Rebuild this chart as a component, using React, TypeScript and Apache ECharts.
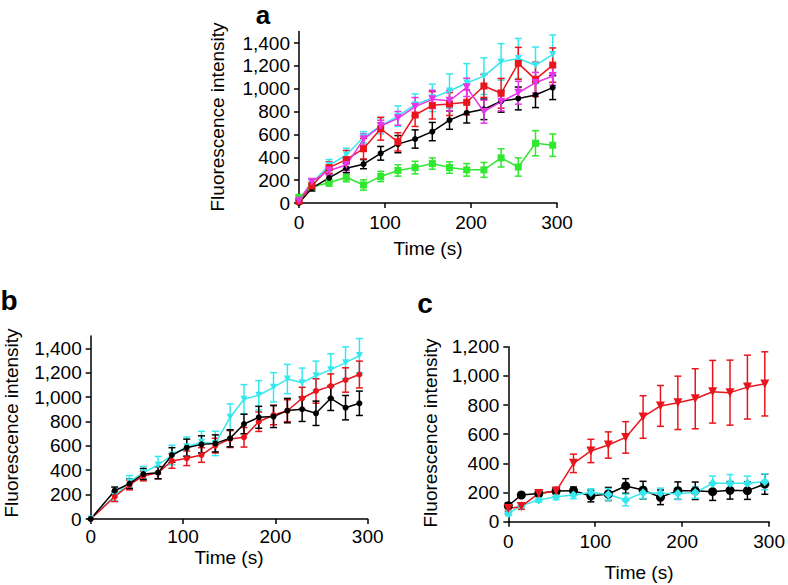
import React, { useEffect, useRef } from "react";
import * as echarts from "echarts";

// ---------- Panel a ----------
const timesA = [0, 15, 35, 55, 75, 95, 115, 135, 155, 175, 195, 215, 235, 255, 275, 295];
const aBlack = [0, 130, 220, 305, 340, 435, 515, 560, 625, 725, 790, 820, 890, 915, 945, 1010];
const aBlackErr = [0, 25, 35, 40, 40, 60, 75, 80, 80, 80, 90, 90, 95, 100, 110, 105];
const aGreen = [50, 140, 178, 225, 158, 232, 285, 310, 345, 310, 290, 290, 395, 315, 523, 506];
const aGreenErr = [20, 25, 30, 40, 45, 45, 50, 55, 50, 50, 55, 65, 80, 80, 110, 98];
const aCyan = [20, 175, 330, 420, 575, 675, 760, 860, 920, 980, 1050, 1110, 1235, 1265, 1205, 1300];
const aCyanErr = [10, 30, 50, 60, 50, 70, 90, 95, 120, 150, 170, 160, 160, 175, 160, 170];
const aRed = [15, 150, 310, 380, 475, 650, 535, 770, 855, 866, 881, 1024, 960, 1222, 1082, 1207];
const aRedErr = [10, 30, 50, 80, 90, 100, 80, 100, 120, 100, 110, 100, 130, 140, 150, 150];
const aMagenta = [20, 187, 285, 332, 557, 674, 741, 843, 907, 895, 1012, 799, 887, 965, 1053, 1111];
const aMagentaErr = [10, 25, 40, 50, 50, 50, 60, 80, 80, 90, 80, 100, 80, 100, 90, 80];

// ---------- Panel b ----------
const timesB = [0, 26, 42, 57, 73, 88, 104, 120, 135, 151, 166, 182, 198, 213, 229, 244, 260, 276, 291];
const bBlack = [0, 232, 290, 369, 380, 525, 585, 612, 620, 662, 779, 834, 840, 889, 900, 867, 990, 913, 949];
const bBlackErr = [0, 30, 40, 45, 50, 60, 70, 70, 70, 70, 80, 90, 90, 100, 100, 100, 100, 100, 100];
const bRed = [0, 183, 279, 353, 380, 476, 498, 525, 602, 656, 670, 798, 853, 888, 990, 1050, 1090, 1140, 1185];
const bRedErr = [0, 40, 40, 40, 50, 60, 60, 60, 60, 70, 80, 80, 80, 90, 90, 100, 100, 100, 110];
const bCyan = [0, 189, 306, 380, 443, 525, 593, 629, 620, 834, 982, 1015, 1080, 1148, 1118, 1175, 1225, 1282, 1340];
const bCyanErr = [0, 40, 50, 50, 70, 80, 80, 90, 100, 110, 120, 120, 120, 120, 120, 120, 130, 130, 140];

// ---------- Panel c ----------
const timesC = [0, 15, 35, 55, 75, 95, 115, 135, 155, 175, 195, 215, 235, 255, 275, 295];
const cRed = [91, 105, 194, 210, 400, 485, 526, 578, 718, 794, 815, 843, 891, 885, 923, 945];
const cRedErr = [20, 20, 15, 15, 63, 80, 90, 108, 146, 140, 183, 206, 215, 223, 219, 220];
const cBlack = [110, 183, 194, 210, 213, 176, 190, 245, 217, 167, 213, 212, 206, 215, 213, 258];
const cBlackErr = [20, 15, 15, 20, 25, 40, 45, 50, 60, 50, 60, 60, 60, 60, 60, 70];
const cCyan = [57, 110, 149, 171, 183, 201, 187, 149, 199, 195, 194, 200, 263, 263, 263, 274];
const cCyanErr = [15, 15, 15, 20, 25, 25, 40, 40, 40, 35, 40, 40, 50, 60, 50, 55];

const yTicks1500 = [0, 200, 400, 600, 800, 1000, 1200, 1400];
const yTicks1200 = [0, 200, 400, 600, 800, 1000, 1200];
const xTicks = [0, 100, 200, 300];

const BLACK = "#000000";
const RED = "#e8161c";
const CYAN = "#36e8ee";
const GREEN = "#2fe82f";
const MAGENTA = "#e835e8";
const FONT = '"Liberation Sans", Arial, Helvetica, sans-serif';

function errSeries(idx: number, times: number[], vals: number[], errs: number[], color: string) {
  return {
    type: "custom",
    xAxisIndex: idx,
    yAxisIndex: idx,
    silent: true,
    data: times.map((t, i) => [t, Math.max(0, vals[i] - errs[i]), vals[i] + errs[i]]),
    encode: { x: 0, y: [1, 2] },
    renderItem: (_params: any, api: any) => {
      const p0 = api.coord([api.value(0), api.value(1)]);
      const p1 = api.coord([api.value(0), api.value(2)]);
      const w = 3.5;
      const style = { stroke: color, lineWidth: 1.5, fill: null };
      return {
        type: "group",
        children: [
          { type: "line", shape: { x1: p0[0], y1: p0[1], x2: p1[0], y2: p1[1] }, style },
          { type: "line", shape: { x1: p0[0] - w, y1: p0[1], x2: p0[0] + w, y2: p0[1] }, style },
          { type: "line", shape: { x1: p1[0] - w, y1: p1[1], x2: p1[0] + w, y2: p1[1] }, style },
        ],
      };
    },
    z: 2,
  };
}

function lineSeries(idx: number, times: number[], vals: number[], color: string, symbol: string, size: number, rotate = 0) {
  return {
    type: "line",
    xAxisIndex: idx,
    yAxisIndex: idx,
    data: times.map((t, i) => [t, vals[i]]),
    symbol,
    symbolSize: size,
    symbolRotate: rotate,
    showSymbol: true,
    lineStyle: { color, width: 1.5 },
    itemStyle: { color, borderWidth: 0 },
    silent: true,
    z: 3,
  };
}

function xAxis(idx: number, margin: number) {
  return {
    type: "value",
    gridIndex: idx,
    min: 0,
    max: 300,
    interval: 100,
    axisLine: { show: true, onZero: false, lineStyle: { color: BLACK, width: 1.5 } },
    axisTick: { show: true, length: 5, lineStyle: { color: BLACK, width: 1.5 } },
    axisLabel: { color: BLACK, fontSize: 19, fontFamily: FONT, margin, customValues: xTicks },
    splitLine: { show: false },
  };
}

function yAxis(idx: number, max: number, ticks: number[]) {
  return {
    type: "value",
    gridIndex: idx,
    min: 0,
    max,
    interval: 200,
    axisLine: { show: true, onZero: false, lineStyle: { color: BLACK, width: 1.5 } },
    axisTick: { show: true, length: 5, lineStyle: { color: BLACK, width: 1.5 }, customValues: ticks },
    axisLabel: {
      color: BLACK,
      fontSize: 19,
      fontFamily: FONT,
      margin: 9,
      customValues: ticks,
      formatter: (v: number) => v.toLocaleString("en-US"),
    },
    splitLine: { show: false },
  };
}

function txt(text: string, x: number, y: number, size: number, bold = false, rotation = 0) {
  return {
    type: "text",
    x,
    y,
    rotation,
    silent: true,
    style: {
      text,
      fill: BLACK,
      fontSize: size,
      fontWeight: bold ? "bold" : "normal",
      fontFamily: FONT,
      align: "center",
      verticalAlign: "middle",
      textAlign: "center",
      textVerticalAlign: "middle",
    },
  };
}

export default function App() {
  const ref = useRef<HTMLDivElement>(null);
  useEffect(() => {
    if (!ref.current) return;
    const chart = echarts.init(ref.current, undefined, { renderer: "svg" });
    const option: any = {
      animation: false,
      backgroundColor: "#ffffff",
      grid: [
        { left: 299, top: 31.6, width: 258, height: 171.4 },
        { left: 90.7, top: 336.1, width: 277, height: 182.9 },
        { left: 508.3, top: 346.7, width: 262.7, height: 175 },
      ],
      xAxis: [xAxis(0, 10), xAxis(1, 8), xAxis(2, 10)],
      yAxis: [yAxis(0, 1500, yTicks1500), yAxis(1, 1500, yTicks1500), yAxis(2, 1200, yTicks1200)],
      series: [
        errSeries(0, timesA, aGreen, aGreenErr, GREEN),
        lineSeries(0, timesA, aGreen, GREEN, "rect", 7),
        errSeries(0, timesA, aCyan, aCyanErr, CYAN),
        lineSeries(0, timesA, aCyan, CYAN, "triangle", 7, 180),
        errSeries(0, timesA, aBlack, aBlackErr, BLACK),
        lineSeries(0, timesA, aBlack, BLACK, "circle", 6),
        errSeries(0, timesA, aRed, aRedErr, RED),
        lineSeries(0, timesA, aRed, RED, "rect", 7),
        errSeries(0, timesA, aMagenta, aMagentaErr, MAGENTA),
        lineSeries(0, timesA, aMagenta, MAGENTA, "triangle", 8, 180),

        errSeries(1, timesB, bCyan, bCyanErr, CYAN),
        lineSeries(1, timesB, bCyan, CYAN, "triangle", 7, 180),
        errSeries(1, timesB, bRed, bRedErr, RED),
        lineSeries(1, timesB, bRed, RED, "circle", 6),
        errSeries(1, timesB, bBlack, bBlackErr, BLACK),
        lineSeries(1, timesB, bBlack, BLACK, "circle", 6),

        errSeries(2, timesC, cBlack, cBlackErr, BLACK),
        lineSeries(2, timesC, cBlack, BLACK, "circle", 9),
        errSeries(2, timesC, cCyan, cCyanErr, CYAN),
        lineSeries(2, timesC, cCyan, CYAN, "diamond", 9),
        errSeries(2, timesC, cRed, cRedErr, RED),
        lineSeries(2, timesC, cRed, RED, "triangle", 9, 180),
      ],
      graphic: [
        txt("a", 263, 15, 26, true),
        txt("Fluorescence intensity", 217, 117, 19, false, Math.PI / 2),
        txt("Time (s)", 428, 248, 19),
        txt("b", 9, 300, 28, true),
        txt("Fluorescence intensity", 11, 423, 19, false, Math.PI / 2),
        txt("Time (s)", 229, 557, 19),
        txt("c", 425, 303, 28, true),
        txt("Fluorescence intensity", 430, 433, 19, false, Math.PI / 2),
        txt("Time (s)", 639, 572, 19),
      ],
    };
    chart.setOption(option);
    return () => chart.dispose();
  }, []);
  return (
    <div
      ref={ref}
      style={{ position: "absolute", left: 0, top: 0, width: 788, height: 585, background: "#fff" }}
    />
  );
}
